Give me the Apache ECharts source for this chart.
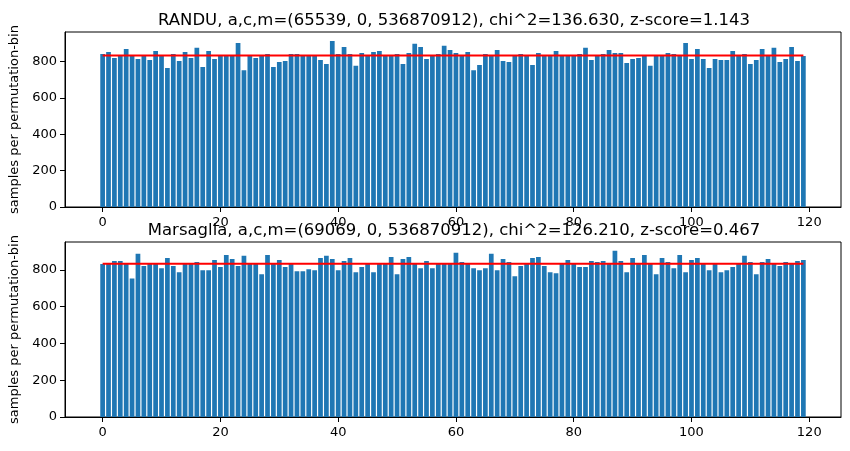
<!DOCTYPE html>
<html>
<head>
<meta charset="utf-8">
<script src="https://cdn.jsdelivr.net/npm/echarts@6/dist/echarts.min.js"></script>
<style>
  html, body { margin: 0; padding: 0; background: #fff; }
  #chart { width: 850px; height: 451px; }
</style>
</head>
<body>
<div id="chart"></div>
<script>
// permutation bins 0..119
const binIndex = Array.from({ length: 120 }, (_, i) => i)

// samples per permutation-bin
const randu = [
  842, 853, 820, 831, 870, 831, 815, 831, 809, 859,
  831, 765, 842, 803, 853, 820, 876, 770, 859, 815,
  831, 831, 831, 903, 753, 831, 820, 831, 842, 770,
  798, 803, 842, 842, 831, 831, 831, 809, 787, 914,
  842, 881, 842, 777, 848, 831, 853, 859, 831, 831,
  842, 787, 848, 898, 881, 815, 831, 842, 888, 864,
  848, 831, 853, 753, 781, 842, 831, 864, 803, 798,
  831, 842, 831, 781, 848, 831, 831, 859, 831, 831,
  831, 842, 876, 809, 831, 842, 864, 848, 848, 792,
  815, 820, 831, 777, 831, 831, 848, 842, 831, 903,
  815, 870, 815, 765, 815, 809, 809, 859, 831, 842,
  787, 809, 870, 831, 876, 798, 815, 881, 803, 831
]

const marsaglia = [
  831, 831, 848, 848, 831, 753, 887, 820, 831, 831,
  809, 864, 820, 787, 831, 831, 842, 798, 798, 853,
  815, 881, 859, 820, 876, 831, 831, 776, 881, 831,
  853, 815, 831, 792, 792, 803, 798, 864, 876, 859,
  798, 848, 864, 787, 815, 831, 787, 831, 831, 870,
  776, 859, 870, 831, 809, 848, 809, 831, 831, 831,
  892, 842, 831, 809, 798, 809, 887, 798, 859, 842,
  765, 820, 831, 864, 870, 820, 787, 781, 831, 853,
  831, 815, 815, 848, 842, 848, 831, 903, 848, 787,
  864, 831, 881, 831, 776, 864, 842, 809, 881, 787,
  853, 864, 831, 798, 831, 787, 798, 815, 831, 876,
  842, 776, 842, 859, 831, 820, 842, 831, 848, 853
]

const expected = 833.33
const xTicks = [0, 20, 40, 60, 80, 100, 120]
const yTicks = [0, 200, 400, 600, 800]
const titles = [
  'RANDU, a,c,m=(65539, 0, 536870912), chi^2=136.630, z-score=1.143',
  'Marsaglia, a,c,m=(69069, 0, 536870912), chi^2=126.210, z-score=0.467'
]

const chart = echarts.init(document.getElementById('chart'))

const FONT = 'DejaVu Sans'
const gridLeft = 65
const gridWidth = 776
const gridHeight = 175
const gridTops = [32, 242]
const xMin = -6.39
const xMax = 125.39
const barW = 0.8 * gridWidth / (xMax - xMin)

function xAxisFor(idx) {
  return {
    type: 'value',
    gridIndex: idx,
    min: xMin,
    max: xMax,
    axisLine: { show: true, onZero: false, lineStyle: { color: '#000', width: 1 } },
    axisTick: { show: true, customValues: xTicks, length: 5, lineStyle: { color: '#000', width: 1 } },
    axisLabel: { customValues: xTicks, color: '#000', fontFamily: FONT, fontSize: 13, margin: 9 },
    splitLine: { show: false }
  }
}

function yAxisFor(idx, max) {
  return {
    type: 'value',
    gridIndex: idx,
    min: 0,
    max: max,
    name: 'samples per permutation-bin',
    nameLocation: 'middle',
    nameGap: 40,
    nameTextStyle: { color: '#000', fontFamily: FONT, fontSize: 13 },
    axisLine: { show: true, onZero: false, lineStyle: { color: '#000', width: 1 } },
    axisTick: { show: true, customValues: yTicks, length: 5, lineStyle: { color: '#000', width: 1 } },
    axisLabel: { customValues: yTicks, color: '#000', fontFamily: FONT, fontSize: 13, margin: 8 },
    splitLine: { show: false }
  }
}

const option = {
  animation: false,
  backgroundColor: '#fff',
  title: titles.map((t, i) => ({
    text: t,
    left: gridLeft + gridWidth / 2 - 4,
    textAlign: 'center',
    top: gridTops[i] - 25,
    textStyle: { color: '#000', fontFamily: FONT, fontSize: 16.5, fontWeight: 'normal' }
  })),
  grid: gridTops.map(top => ({
    left: gridLeft,
    top: top,
    width: gridWidth,
    height: gridHeight,
    show: true,
    borderColor: '#000',
    borderWidth: 1,
    backgroundColor: 'transparent'
  })),
  xAxis: [xAxisFor(0), xAxisFor(1)],
  yAxis: [yAxisFor(0, 963), yAxisFor(1, 951)],
  series: [
    {
      type: 'bar',
      xAxisIndex: 0,
      yAxisIndex: 0,
      barWidth: barW,
      itemStyle: { color: '#1f77b4' },
      data: binIndex.map((b, i) => [b, randu[i]])
    },
    {
      type: 'line',
      xAxisIndex: 0,
      yAxisIndex: 0,
      symbol: 'none',
      z: 5,
      lineStyle: { color: '#ff0000', width: 2 },
      data: [[binIndex[0], expected], [binIndex[binIndex.length - 1], expected]]
    },
    {
      type: 'bar',
      xAxisIndex: 1,
      yAxisIndex: 1,
      barWidth: barW,
      itemStyle: { color: '#1f77b4' },
      data: binIndex.map((b, i) => [b, marsaglia[i]])
    },
    {
      type: 'line',
      xAxisIndex: 1,
      yAxisIndex: 1,
      symbol: 'none',
      z: 5,
      lineStyle: { color: '#ff0000', width: 2 },
      data: [[binIndex[0], expected], [binIndex[binIndex.length - 1], expected]]
    }
  ]
}

chart.setOption(option)
</script>
</body>
</html>
